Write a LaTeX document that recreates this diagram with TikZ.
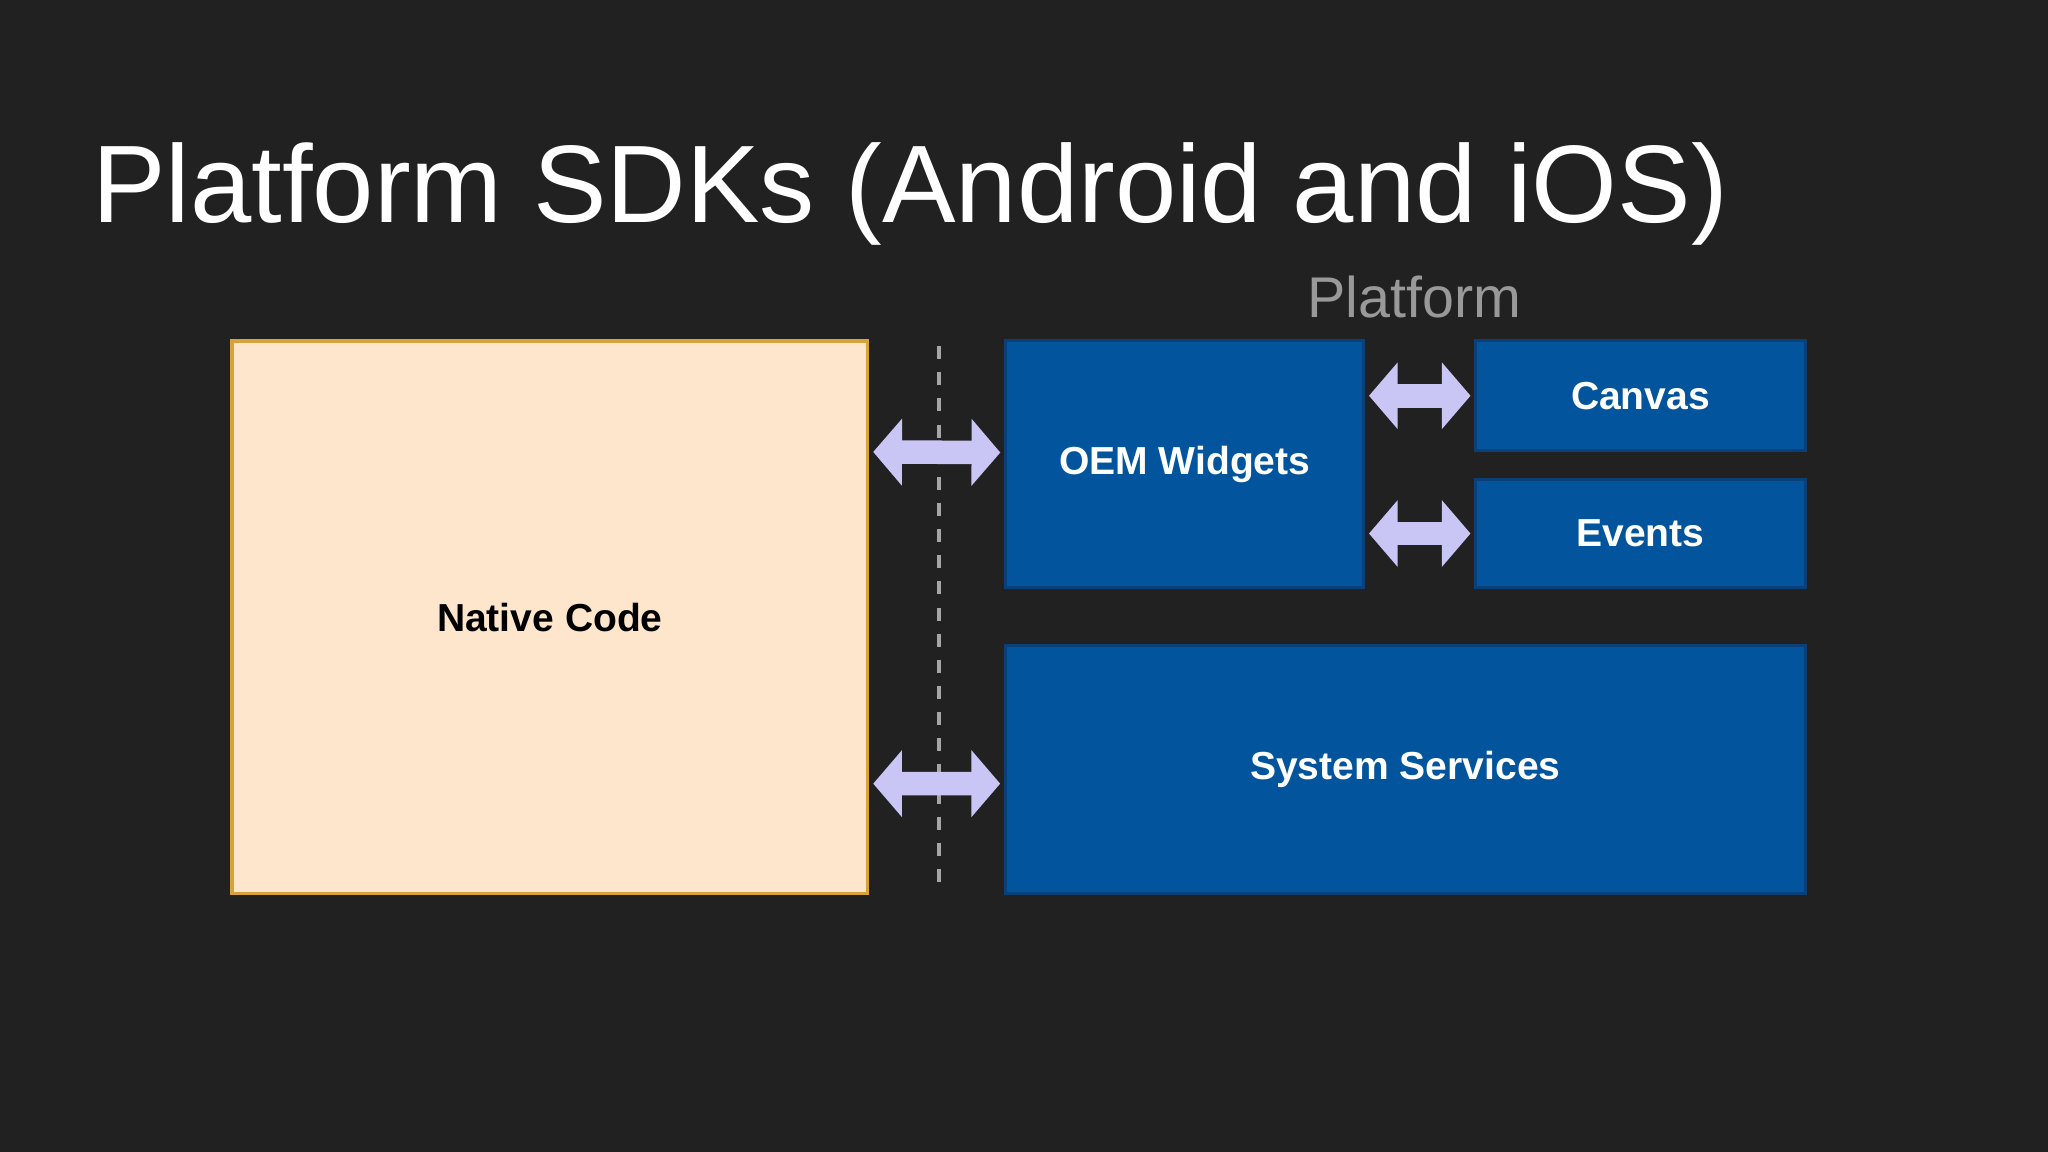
\documentclass[tikz,border=0pt]{standalone}
\usepackage{fontspec}
\setmainfont{Liberation Sans}
\usetikzlibrary{positioning,arrows.meta}
\definecolor{bgdark}{HTML}{212121}
\definecolor{nativefill}{HTML}{FEE6CC}
\definecolor{nativeline}{HTML}{D7A23A}
\definecolor{sdkblue}{HTML}{02559D}
\definecolor{sdkline}{HTML}{0A3F78}
\definecolor{lavender}{HTML}{C9C5F5}
\tikzset{
  box/.style={rectangle, draw=sdkline, fill=sdkblue, text=white, line width=0.6pt,
    font=\fontsize{8.5}{10}\selectfont\bfseries, inner sep=0pt},
  fat/.style={draw=lavender, line width=0.18cm,
    {Triangle[width=0.5cm,length=0.22cm]}-{Triangle[width=0.5cm,length=0.22cm]},
    shorten <=0.03cm, shorten >=0.03cm}
}
\begin{document}
\begin{tikzpicture}[x=0.01cm, y=-0.01cm]
    % background
    \fill[bgdark] (0,0) rectangle (1568,882);
    \useasboundingbox (0,0) rectangle (1568,882);
    % title
    \node[anchor=base west, text=white, inner sep=0pt, font=\fontsize{24}{28}\selectfont] (title) at (70,170) {Platform SDKs (Android and iOS)};
    \node[text=gray!80, inner sep=0pt, font=\fontsize{12.5}{14}\selectfont] (platform) at (1083,227) {Platform};
    % boxes
    \node[rectangle, draw=nativeline, fill=nativefill, line width=0.8pt, minimum width=4.86cm, minimum height=4.23cm,
      font=\fontsize{8.5}{10}\selectfont\bfseries] (native) at (421,472.5) {Native Code};
    \node[box, minimum width=2.74cm, minimum height=1.89cm] (oem) at (907,355.5) {OEM Widgets};
    \node[box, minimum width=2.52cm, minimum height=0.84cm] (canvas) at (1256,303) {Canvas};
    \node[box, minimum width=2.52cm, minimum height=0.83cm] (events) at (1256,408.5) {Events};
    \node[box, minimum width=6.12cm, minimum height=1.90cm] (sys) at (1076,589) {System Services};
    % divider
    \draw[gray!70, line width=0.9pt, dash pattern=on 0.1cm off 0.1cm] (719,265) -- (719,684);
    % arrows
    \draw[fat] (native.east |- 0,346) -- ([yshift=0.09cm]oem.west);
    \draw[fat] (native.east |- 0,600) -- ([yshift=-0.11cm]sys.west);
    \draw[fat] (oem.east |- canvas.west) -- (canvas.west);
    \draw[fat] (oem.east |- events.west) -- (events.west);
\end{tikzpicture}
\end{document}
